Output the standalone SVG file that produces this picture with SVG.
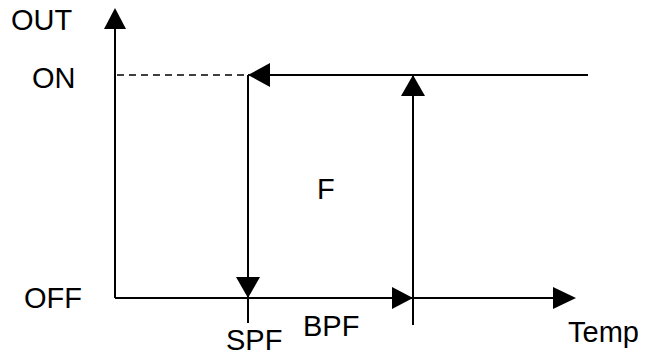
<svg xmlns="http://www.w3.org/2000/svg" width="663" height="356" viewBox="0 0 663 356">
<style>
.ln{stroke:#000;stroke-width:2;fill:none}
.ds{stroke:#000;stroke-width:1.5;fill:none;stroke-dasharray:7,5}
.ah{fill:#000;stroke:none}
.t{font-family:"Liberation Sans",Arial,sans-serif;font-size:29px;fill:#000}
</style>
<rect width="663" height="356" fill="#fff"/>
<g id="connectors">
<line class="ln" x1="115" y1="26" x2="115" y2="298"/>
<line class="ln" x1="115" y1="298" x2="555" y2="298"/>
<line class="ds" x1="117" y1="75" x2="248" y2="75"/>
<line class="ln" x1="248" y1="75" x2="588" y2="75"/>
<line class="ln" x1="248" y1="75" x2="248" y2="323"/>
<line class="ln" x1="413" y1="75" x2="413" y2="325"/>
<polygon class="ah" points="115,8 104,29 126,29"/>
<polygon class="ah" points="576,298 553,287 553,309"/>
<polygon class="ah" points="248,75 270,63 270,87"/>
<polygon class="ah" points="248,298 236,277 260,277"/>
<polygon class="ah" points="413,75 401,96 425,96"/>
<polygon class="ah" points="413,298 392,287 392,309"/>
</g>
<g id="labels">
<text class="t" x="11" y="30">OUT</text>
<text class="t" x="32" y="88">ON</text>
<text class="t" x="24" y="308">OFF</text>
<text class="t" x="317" y="199">F</text>
<text class="t" x="226" y="350">SPF</text>
<text class="t" x="303" y="336">BPF</text>
<text class="t" x="568" y="342">Temp</text>
</g>
</svg>
